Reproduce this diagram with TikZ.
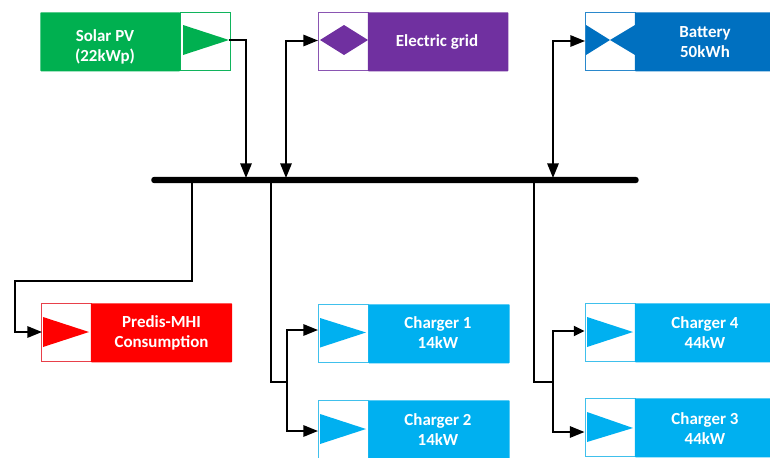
\documentclass[tikz,border=0pt]{standalone}
\usepackage{fontspec}
\setmainfont{Carlito}
\usetikzlibrary{arrows.meta,positioning}
\definecolor{cgreen}{HTML}{00B050}
\definecolor{cpurple}{HTML}{7030A0}
\definecolor{cblue}{HTML}{0070C0}
\definecolor{cred}{HTML}{FF0000}
\definecolor{ccyan}{HTML}{00B0F0}
\definecolor{bgreen}{HTML}{10B45C}
\definecolor{bpurple}{HTML}{8A55B2}
\definecolor{bblue}{HTML}{2A88CC}
\definecolor{bred}{HTML}{E8404A}
\definecolor{bcyan}{HTML}{40C0EC}
\tikzset{
  x=0.75pt,y=-0.75pt,
  icon/.style={draw=#1,line width=1pt,fill=white,minimum width=37.5pt,minimum height=43.5pt,inner sep=0pt,outer sep=0pt,anchor=north west},
  fillbox/.style={fill=#1,rounded corners=0.6pt,minimum width=105pt,minimum height=44.25pt,inner sep=0pt,anchor=north west},
  boxtext/.style={text=white,font=\bfseries\fontsize{12.7}{15}\selectfont,align=center,inner sep=0pt},
  conn/.style={draw=black,line width=1.5pt,line join=miter},
  tip/.style={-{Triangle[length=11pt,width=8.5pt]}},
  tips/.style={{Triangle[length=11pt,width=8.5pt]}-{Triangle[length=11pt,width=8.5pt]}},
  smalltip/.style={-{Triangle[length=8pt,width=7.5pt]}},
  bus/.style={fill=black,rounded corners=2pt,minimum width=365.5pt,minimum height=4.6pt,inner sep=0pt,anchor=west},
}
\begin{document}
\begin{tikzpicture}
\clip (0,0) rectangle (770,457);
% bus
\node[bus] (bus) at (151,180) {};
% Solar
\node[icon=bgreen] (solaricon) at (180.5,12.5) {};
\node[fillbox=cgreen] (solar) at (40,12) {};
\node[boxtext] (solartext) at (105,47) {Solar PV\\(22kWp)};
\fill[cgreen] (183,25) -- (229,40) -- (183,55) -- cycle;
\coordinate (solarport) at (229,40);
% Grid
\node[icon=bpurple] (gridicon) at (318.5,12.5) {};
\node[fillbox=cpurple,minimum width=105.5pt] (grid) at (367.5,12) {};
\node[boxtext] (gridtext) at (437,42) {Electric grid};
\fill[cpurple] (320,40) -- (344,25) -- (368,40) -- (344,55) -- cycle;
\coordinate (gridport) at (318,40.5);
% Battery
\node[icon=bblue] (batticon) at (585.5,12.5) {};
\node[fillbox=cblue,minimum width=105.5pt] (batt) at (634.5,12) {};
\node[boxtext] (batttext) at (705,42) {Battery\\50kWh};
\fill[cblue] (586,25) -- (610,40) -- (635,25) -- (635,55) -- (610,40) -- (586,55) -- cycle;
\coordinate (battport) at (585,41);
% Predis
\node[icon=bred] (predicon) at (41.5,303.5) {};
\node[fillbox=cred,minimum width=106pt] (pred) at (90.5,303) {};
\node[boxtext] (predtext) at (161.5,333) {Predis-MHI\\Consumption};
\fill[cred] (43,317) -- (89,332) -- (43,347) -- cycle;
\coordinate (predport) at (42,332);
% Charger 1
\node[icon=bcyan] (chaicon) at (318.5,304.5) {};
\node[fillbox=ccyan,minimum width=106pt] (cha) at (368,304) {};
\node[boxtext] (chatext) at (438,333) {Charger 1\\14kW};
\fill[ccyan] (320,318) -- (366,332.5) -- (320,347.5) -- cycle;
\coordinate (chaport) at (318,330);
% Charger 2
\node[icon=bcyan] (chbicon) at (318.5,400.5) {};
\node[fillbox=ccyan,minimum width=106pt] (chb) at (368,400) {};
\node[boxtext] (chbtext) at (438,430) {Charger 2\\14kW};
\fill[ccyan] (320,414) -- (366,429) -- (320,444) -- cycle;
\coordinate (chbport) at (318,431);
% Charger 4
\node[icon=bcyan] (chdicon) at (585.5,303.5) {};
\node[fillbox=ccyan] (chd) at (634.5,303) {};
\node[boxtext] (chdtext) at (705,333) {Charger 4\\44kW};
\fill[ccyan] (587,317) -- (633,332) -- (587,347) -- cycle;
\coordinate (chdport) at (584.5,331);
% Charger 3
\node[icon=bcyan] (chcicon) at (585.5,398.5) {};
\node[fillbox=ccyan] (chc) at (634.5,398) {};
\node[boxtext] (chctext) at (705,429) {Charger 3\\44kW};
\fill[ccyan] (587,412) -- (633,428) -- (587,442) -- cycle;
\coordinate (chcport) at (584.5,432);
% bus tap points
\coordinate (tsolar) at (246,178);
\coordinate (tgrid) at (286,178);
\coordinate (tbatt) at (553,178);
\coordinate (tpred) at (192,180);
\coordinate (tch) at (271,180);
\coordinate (tchr) at (534,180);
\coordinate (jl) at (287,382);
\coordinate (jr) at (553,382);
% connectors
\draw[conn,tip] (solarport) -| (tsolar);
\draw[conn,tips] (gridport) -| (tgrid);
\draw[conn,tips] (battport) -| (tbatt);
\draw[conn,tip] (tpred) -- (192,281) -- (15,281) -- (15,332) -- (predport);
\draw[conn] (tch) |- (jl);
\draw[conn,tip] (jl) |- (chaport);
\draw[conn,tip] (jl) |- (chbport);
\draw[conn] (tchr) |- (jr);
\draw[conn,smalltip] (jr) |- (chdport);
\draw[conn,tip] (jr) |- (chcport);
\end{tikzpicture}
\end{document}
